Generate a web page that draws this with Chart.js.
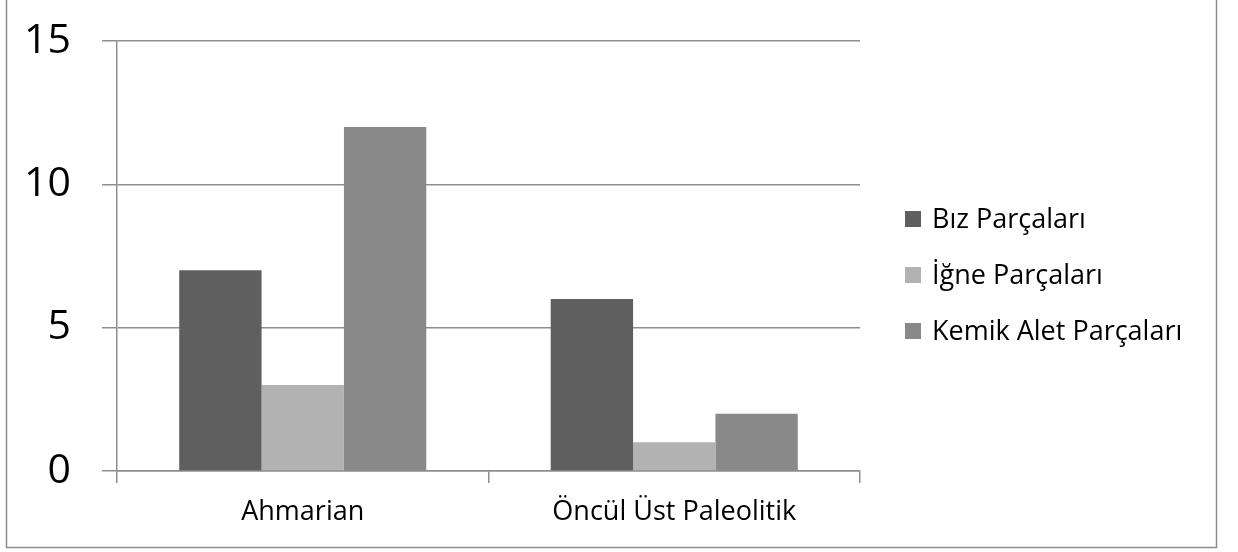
<!DOCTYPE html>
<html>
<head>
<meta charset="utf-8">
<script src="https://cdn.jsdelivr.net/npm/chart.js@4"></script>
<style>
    body { margin: 0; background: #fff; }
    canvas { display: block; }
</style>
</head>
<body>
<canvas id="myChart" width="1238" height="552"></canvas>
<script>
const categories = ['Ahmarian', 'Öncül Üst Paleolitik'];
const seriesNames = ['Bız Parçaları', 'İğne Parçaları', 'Kemik Alet Parçaları'];
const bizParcalari = [7, 6];
const igneParcalari = [3, 1];
const kemikAletParcalari = [12, 2];
const yTickValues = [0, 5, 10, 15];

const colors = ['#5f5f5f', '#b2b2b2', '#898989'];
const gridColor = '#8e8e8e';
const FONT = '"Open Sans", "Noto Sans", sans-serif';

// legend drawn on the right, plus the outer frame
const sideLegend = {
    id: 'sideLegend',
    afterDraw(chart) {
        const ctx = chart.ctx;
        ctx.save();
        ctx.font = '27px ' + FONT;
        ctx.textBaseline = 'middle';
        ctx.fillStyle = '#000';
        chart.data.datasets.forEach((ds, i) => {
            const cy = 219 + i * 56;
            ctx.fillStyle = ds.backgroundColor;
            ctx.fillRect(905, cy - 8, 16, 16);
            ctx.fillStyle = '#000';
            ctx.fillText(ds.label, 932, cy + 1);
        });
        ctx.strokeStyle = '#8c8c8c';
        ctx.lineWidth = 1.5;
        ctx.strokeRect(6.5, -5, 1210, 552.5);
        ctx.restore();
    }
};

const ctx = document.getElementById('myChart').getContext('2d');
new Chart(ctx, {
    type: 'bar',
    data: {
        labels: categories,
        datasets: [
            { label: seriesNames[0], data: bizParcalari, backgroundColor: colors[0] },
            { label: seriesNames[1], data: igneParcalari, backgroundColor: colors[1] },
            { label: seriesNames[2], data: kemikAletParcalari, backgroundColor: colors[2] },
        ],
    },
    options: {
        responsive: false,
        animation: false,
        categoryPercentage: 0.665,
        barPercentage: 1,
        layout: {
            padding: { top: 41, right: 378, bottom: 0, left: 0 }
        },
        plugins: {
            legend: { display: false },
            tooltip: { enabled: false },
        },
        scales: {
            y: {
                min: 0,
                max: 15,
                afterFit(scale) {
                    scale.width = 117;
                    scale.paddingTop = 0;
                    scale.paddingBottom = 0;
                },
                afterBuildTicks(scale) {
                    scale.ticks = yTickValues.map(v => ({ value: v }));
                },
                ticks: {
                    color: '#000',
                    font: { family: FONT, size: 41 },
                    padding: 31,
                },
                grid: {
                    color: gridColor,
                    lineWidth: 1.5,
                    tickLength: 15,
                },
                border: {
                    display: true,
                    color: gridColor,
                    width: 1.5,
                }
            },
            x: {
                afterFit(scale) {
                    scale.height = 81;
                    scale.paddingLeft = 0;
                    scale.paddingRight = 0;
                },
                grid: {
                    offset: true,
                    drawOnChartArea: false,
                    color: gridColor,
                    lineWidth: 1.5,
                    tickLength: 12,
                },
                ticks: {
                    color: '#000',
                    font: { family: FONT, size: 27 },
                    padding: 13,
                    maxRotation: 0,
                },
                border: {
                    display: true,
                    color: gridColor,
                    width: 1.5,
                }
            },
        },
    },
    plugins: [sideLegend],
});
</script>
</body>
</html>
